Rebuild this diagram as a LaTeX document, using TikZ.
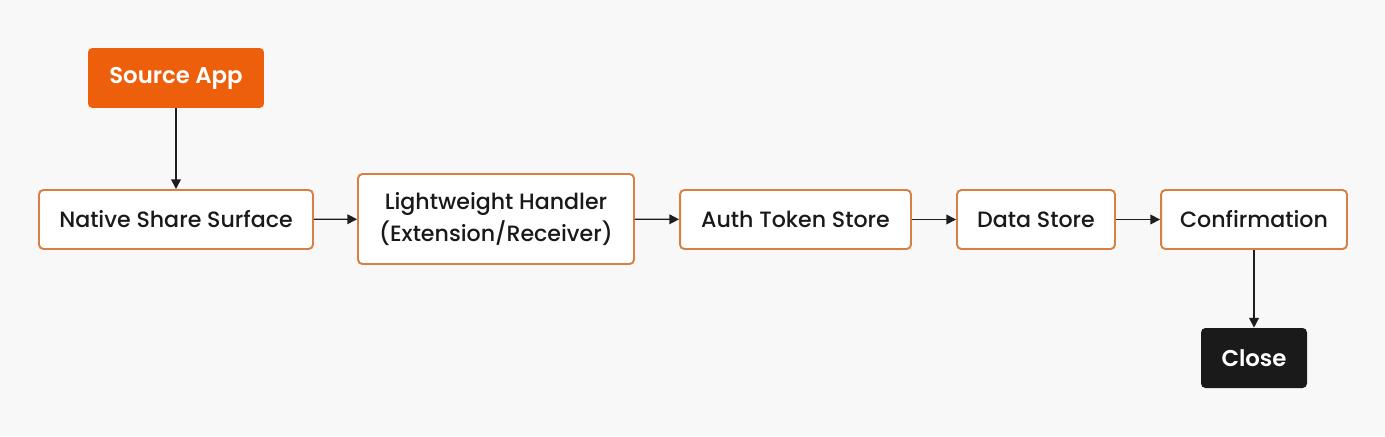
\documentclass[tikz,border=0pt]{standalone}
\usepackage{fontspec}
\setmainfont{Poppins}[UprightFont=* Medium, BoldFont=* SemiBold]
\usetikzlibrary{arrows.meta}
\definecolor{bgcol}{HTML}{F8F8F8}
\definecolor{orangefill}{HTML}{EE5F0C}
\definecolor{boxline}{HTML}{D9803F}
\definecolor{darkfill}{HTML}{1A1A1A}
\definecolor{arrowcol}{HTML}{1E1E1E}
\tikzset{
  stage/.style={draw=boxline, line width=1.1pt, fill=white, rounded corners=2.5pt,
    minimum height=1.18cm, align=center, font=\fontsize{12.6}{18}\selectfont, text=black!90},
  srcbox/.style={fill=orangefill, rounded corners=2.5pt, minimum width=3.52cm, minimum height=1.2cm,
    font=\fontsize{13}{15}\selectfont\bfseries, text=white},
  endbox/.style={fill=darkfill, rounded corners=2.5pt, minimum width=2.12cm, minimum height=1.2cm,
    font=\fontsize{13}{15}\selectfont\bfseries, text=white},
  flow/.style={-{Triangle[length=5.5pt,width=5.5pt]}, line width=0.8pt, draw=arrowcol}
}
\begin{document}
\begin{tikzpicture}[x=0.02cm,y=-0.02cm]
\fill[bgcol] (0,0) rectangle (1385,436);
\useasboundingbox (0,0) rectangle (1385,436);

\node[srcbox] (source) at (176,78) {Source App};

\node[stage, minimum width=5.48cm] (share) at (176,219.5) {Native Share Surface};
\node[stage, minimum width=5.52cm, minimum height=1.8cm] (handler) at (496,219) {Lightweight Handler\\(Extension/Receiver)};
\node[stage, minimum width=4.62cm] (token) at (795.5,219.5) {Auth Token Store};
\node[stage, minimum width=3.16cm] (data) at (1036,219.5) {Data Store};
\node[stage, minimum width=3.72cm] (confirm) at (1254,219.5) {Confirmation};

\node[endbox] (close) at (1254,358) {Close};

\draw[flow] (source) -- (share);
\draw[flow] (share) -- (handler);
\draw[flow] (handler) -- (token);
\draw[flow] (token) -- (data);
\draw[flow] (data) -- (confirm);
\draw[flow] (confirm) -- (close);
\end{tikzpicture}
\end{document}
